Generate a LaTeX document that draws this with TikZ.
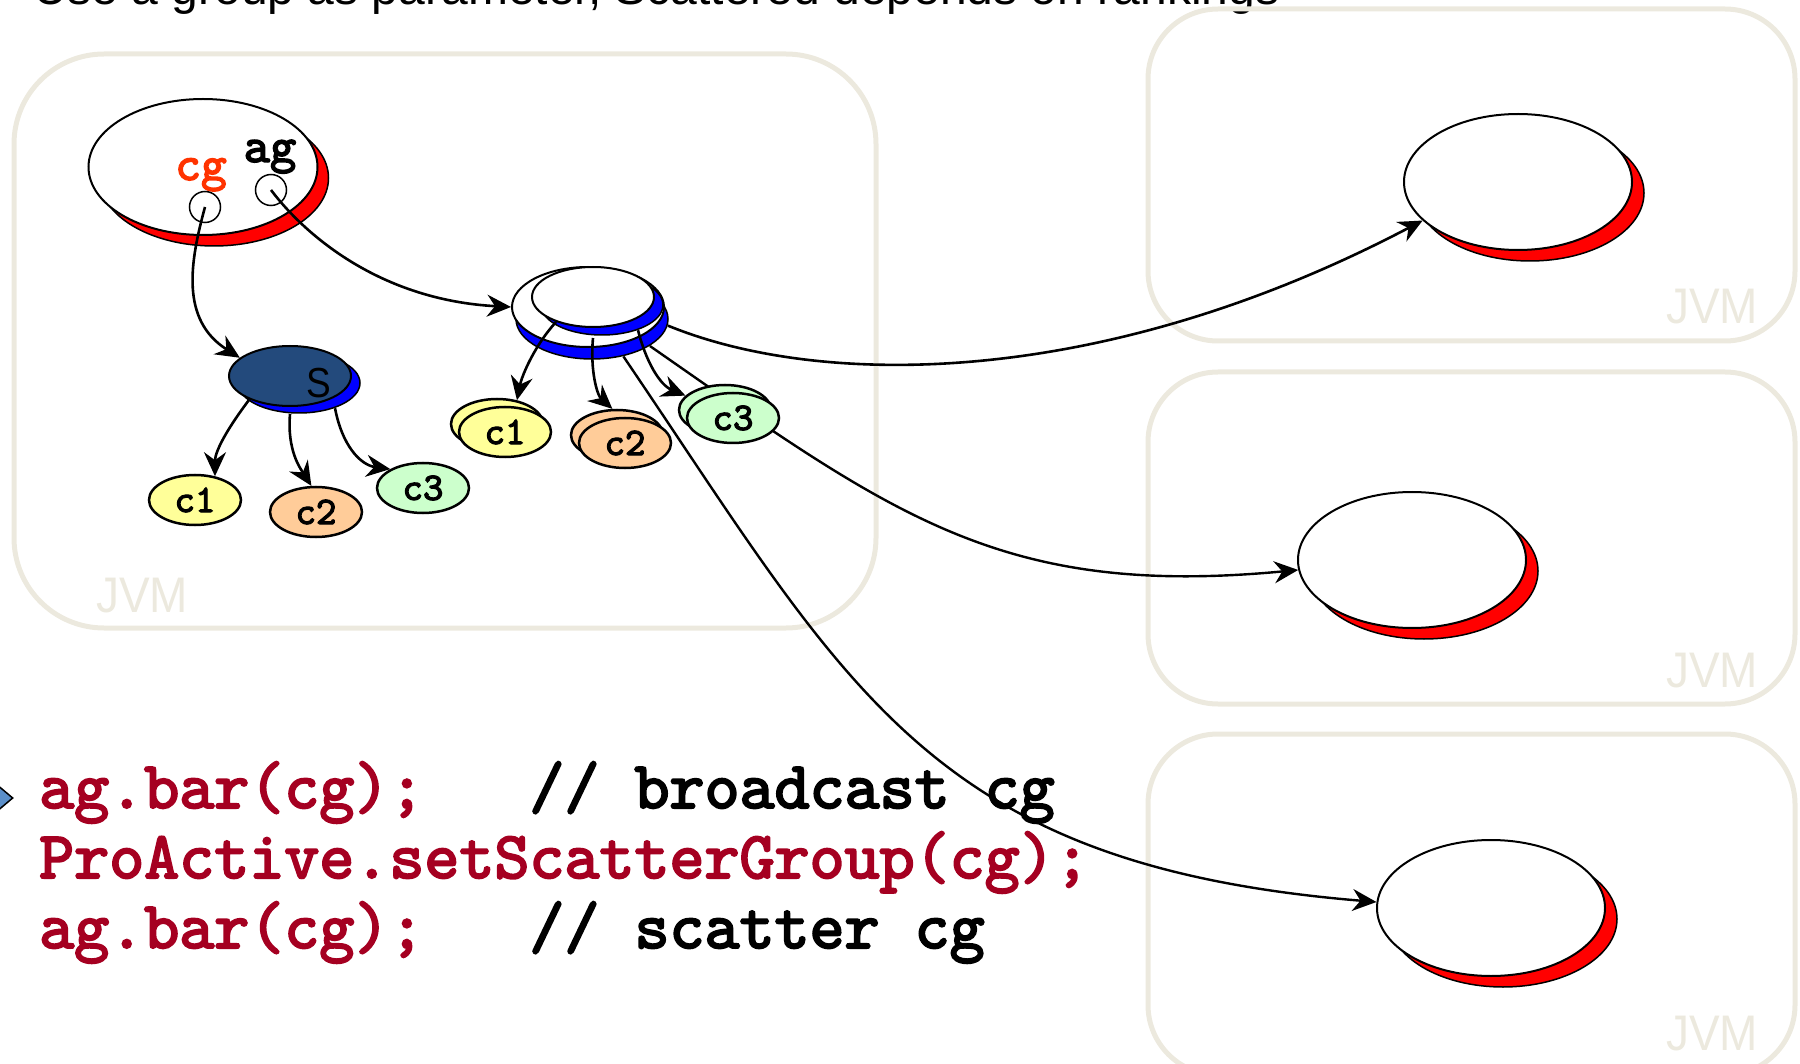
\documentclass[tikz,border=0pt]{standalone}
\usepackage{fontspec}
\usepackage{graphicx}
\setmainfont{Liberation Sans}
\newfontfamily\heavymono{lmmono10-regular.otf}[FakeBold=3]
\usetikzlibrary{shapes.geometric,arrows.meta}

\definecolor{jvmline}{RGB}{236,233,222}
\definecolor{codered}{RGB}{165,0,33}
\definecolor{cgred}{RGB}{255,51,0}
\definecolor{sblue}{RGB}{35,74,124}
\definecolor{cyellow}{RGB}{255,255,153}
\definecolor{corange}{RGB}{255,204,153}
\definecolor{cgreen}{RGB}{204,255,204}
\definecolor{bulletblue}{RGB}{91,143,201}

% heavy typewriter face at a given size
\newcommand\heavytt[1]{\fontsize{#1}{#1}\heavymono}

\begin{document}
\begin{tikzpicture}[x=1pt,y=-1pt,
  jvmbox/.style={draw=jvmline,line width=5pt},
  jvmlabel/.style={text=jvmline,font=\fontsize{50}{50}\selectfont,anchor=base west,inner sep=0pt},
  shadowed/.style n args={3}{preaction={draw=black,fill=#1,line width=1.5pt,
      transform canvas={shift={(#2pt,-#3pt)}}}},
  objnode/.style={ellipse,draw=black,fill=white,line width=2pt,inner sep=0pt,
      minimum width=228pt,minimum height=136pt},
  cnode/.style={ellipse,draw=black,line width=2.5pt,inner sep=0pt,
      minimum width=92pt,minimum height=50pt,font=\heavytt{39}},
  refcircle/.style={circle,draw=black,fill=white,line width=1.5pt,inner sep=0pt,minimum size=31pt},
  codeline/.style={anchor=base west,inner sep=0pt,font=\heavytt{66.7}},
  conn/.style={draw,line width=2.6pt,-{Stealth[length=24pt,width=22pt,inset=8pt]}},
  farconn/.style={draw,line width=2.4pt,-{Stealth[length=24pt,width=22pt,inset=8pt]}}
]
\useasboundingbox (0,0) rectangle (1800,1064);
\clip (0,0) rectangle (1800,1064);

% heading, cut by the top edge
\node[anchor=base west,inner sep=0pt,font=\fontsize{48}{48}\selectfont] (title) at (33,5)
  {Use a group as parameter, Scattered depends on rankings};

% JVM containers
\draw[jvmbox,rounded corners=90pt] (14,54) rectangle (876,628);
\draw[jvmbox,rounded corners=70pt] (1148,9) rectangle (1795,341);
\draw[jvmbox,rounded corners=70pt] (1148,372) rectangle (1795,704);
\draw[jvmbox,rounded corners=70pt] (1148,734) rectangle (1795,1075);
\node[jvmlabel] (jvmA) at (96,612) {\scalebox{0.92}[1]{JVM}};
\node[jvmlabel] (jvmB) at (1666,324) {\scalebox{0.92}[1]{JVM}};
\node[jvmlabel] (jvmC) at (1666,687) {\scalebox{0.92}[1]{JVM}};
\node[jvmlabel] (jvmD) at (1666,1050) {\scalebox{0.92}[1]{JVM}};

% code
\node[diamond,draw=black,line width=1.5pt,fill=bulletblue,inner sep=0pt,
      minimum width=26pt,minimum height=22pt] (bullet) at (0,798) {};
\node[codeline] (code1) at (39,808) {{\color{codered}ag.bar(cg);}~~~// broadcast cg};
\node[codeline,text=codered] (code2) at (39,878) {ProActive.setScatterGroup(cg);};
\node[codeline] (code3) at (39,948) {{\color{codered}ag.bar(cg);}~~~// scatter cg};

% remote objects
\node[objnode,shadowed={red}{12}{11}] (R1) at (1518,182) {};
\node[objnode,shadowed={red}{12}{11}] (R2) at (1412,560) {};
\node[objnode,shadowed={red}{12}{11}] (R3) at (1491,908) {};

% local object holding cg and ag
\node[objnode,minimum width=229pt,shadowed={red}{11}{11}] (obj) at (203,167) {};
\node[anchor=base,inner sep=0pt,text=cgred,font=\heavytt{49}] (cglbl) at (201,180) {cg};
\node[anchor=base,inner sep=0pt,font=\heavytt{50}] (aglbl) at (270,162) {ag};
\node[refcircle] (cgc) at (205,207) {};
\node[refcircle] (agc) at (271,190) {};

% group proxy (stacked)
\node[ellipse,draw=black,fill=white,line width=2pt,inner sep=0pt,
      minimum width=152pt,minimum height=80pt,shadowed={blue}{4}{12}] (grp) at (588,307) {};
\node[ellipse,draw=black,fill=white,line width=2pt,inner sep=0pt,
      minimum width=122pt,minimum height=60pt,shadowed={blue}{9}{8}] (grptop) at (593,297) {};

% group to remote objects
\draw[conn] ([shift={(4,12)}]grp.-5) .. controls (820,388) and (1100,390) .. (R1.202);
\draw[farconn] ([shift={(4,12)}]grp.-25) .. controls (894,516) and (1001,598) .. (R2.185);
\draw[farconn] ([shift={(4,12)}]grp.-50) .. controls (849,689) and (928,865) .. (R3.177);

% group members
\node[cnode,fill=cyellow] (c1Mb) at (497,424) {};
\node[cnode,fill=cyellow] (c1M) at (505,432) {c1};
\node[cnode,fill=corange] (c2Mb) at (617,435) {};
\node[cnode,fill=corange] (c2M) at (625,443) {c2};
\node[cnode,fill=cgreen] (c3Mb) at (725,410) {};
\node[cnode,fill=cgreen] (c3M) at (733,418) {c3};

\draw[conn] (grptop.214) .. controls (535,345) and (522,375) .. (c1Mb.50);
\draw[conn] ([yshift=-10pt]grptop.270) .. controls (590,370) and (597,395) .. (c2Mb.100);
\draw[conn] ([shift={(9,8)}]grptop.-35) .. controls (646,362) and (660,385) .. (c3Mb.160);

% scatter group S
\node[ellipse,draw=black,fill=sblue,line width=2pt,inner sep=0pt,
      minimum width=122pt,minimum height=60pt,shadowed={blue}{9}{7}] (S) at (290,376) {};
\node[inner sep=0pt,font=\fontsize{42}{42}\selectfont] (Slbl) at (319,383) {\scalebox{0.88}[1]{S}};

\node[cnode,fill=cyellow] (c1L) at (195,500) {c1};
\node[cnode,fill=corange] (c2L) at (316,512) {c2};
\node[cnode,fill=cgreen] (c3L) at (423,488) {c3};

\draw[conn] (S.210) .. controls (230,425) and (215,450) .. (c1L.50);
\draw[conn] ([yshift=-7pt]S.270) .. controls (287,450) and (300,468) .. (c2L.100);
\draw[conn] ([shift={(9,7)}]S.-35) .. controls (342,445) and (360,465) .. (c3L.150);

% references held by the local object
\draw[conn] (cgc.center) .. controls (190,262) and (180,320) .. (S.160);
\draw[conn] (agc.center) .. controls (305,235) and (380,300) .. (grp.west);
\end{tikzpicture}
\end{document}
